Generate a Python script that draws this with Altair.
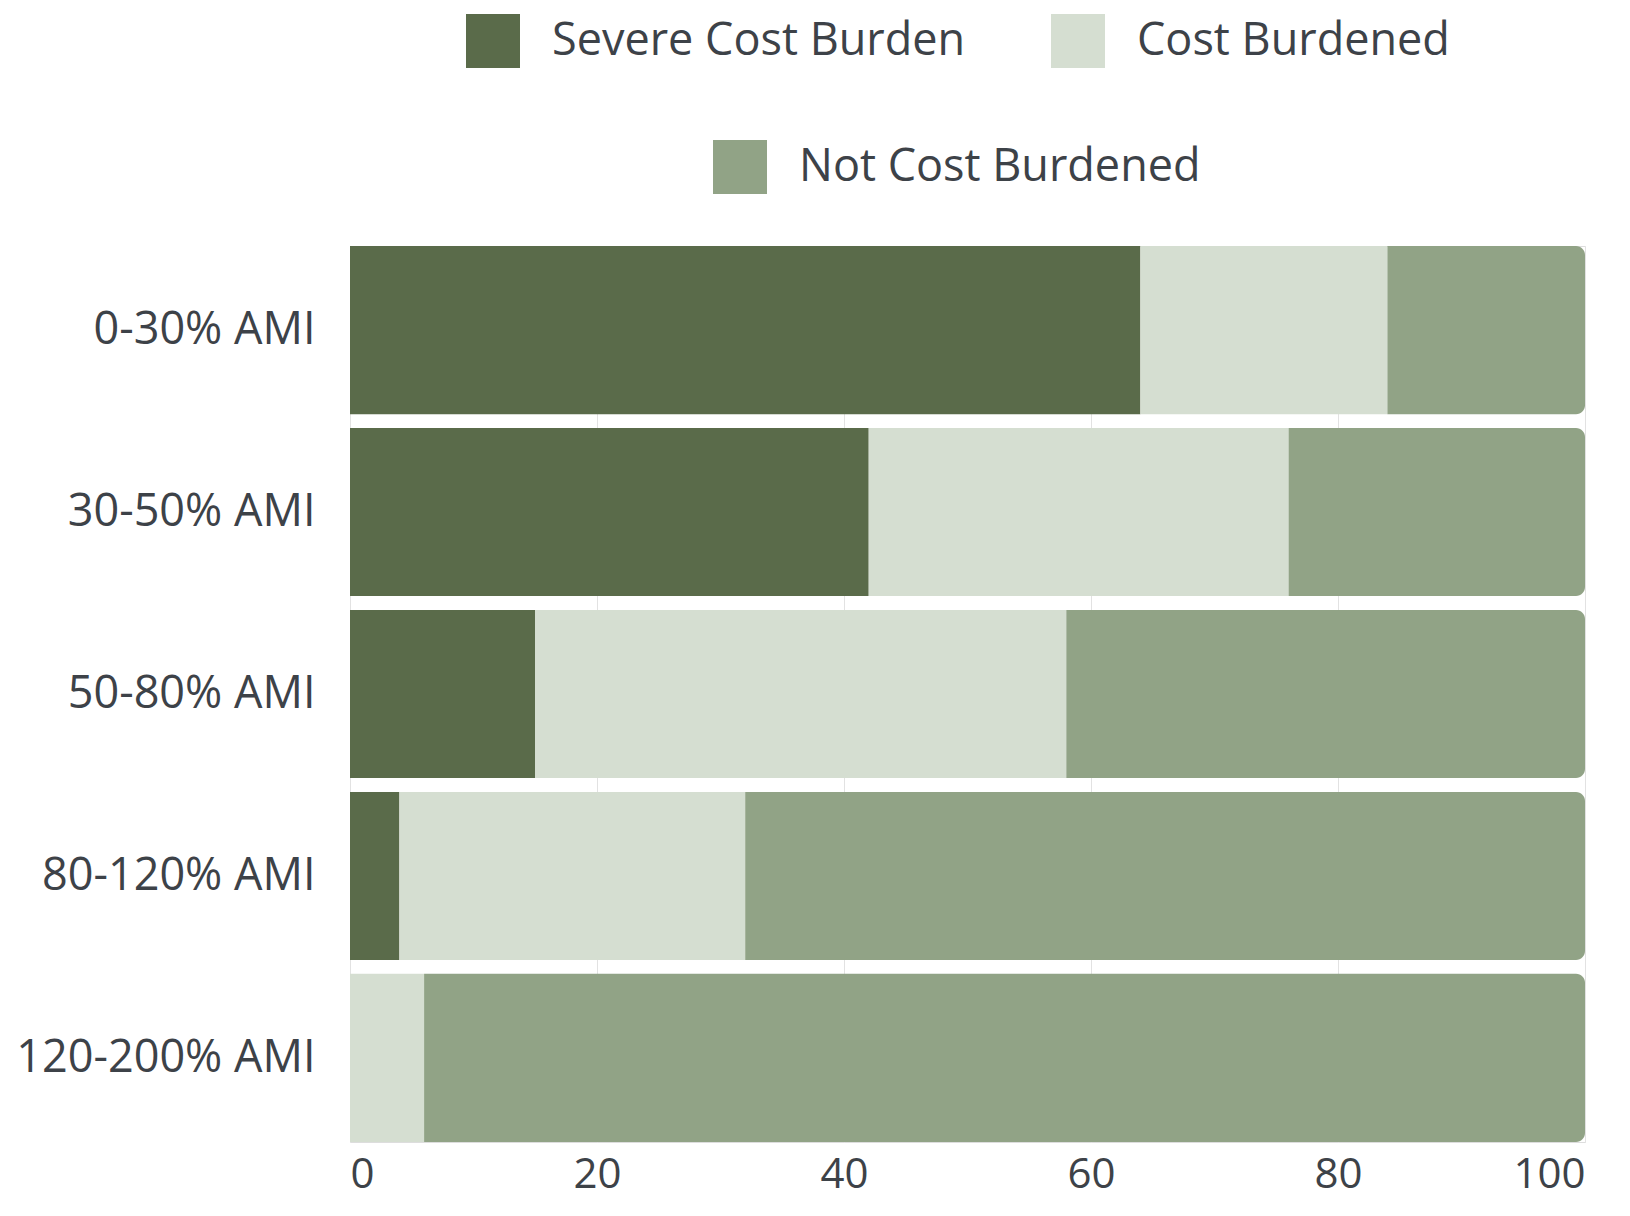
import altair as alt
import pandas as pd

categories = ["0-30% AMI", "30-50% AMI", "50-80% AMI", "80-120% AMI", "120-200% AMI"]
series_names = ["Severe Cost Burden", "Cost Burdened", "Not Cost Burdened"]
severe = [64, 42, 15, 4, 0]
burdened = [20, 34, 43, 28, 6]
not_burdened = [16, 24, 42, 68, 94]
colors = ["#5a6b4a", "#d5ded1", "#91a386"]
x_ticks = [0, 20, 40, 60, 80, 100]

rows = []
for i, cat in enumerate(categories):
    for j, (name, vals) in enumerate(zip(series_names, [severe, burdened, not_burdened])):
        rows.append({"category": cat, "series": name, "order": j, "value": vals[i]})
df = pd.DataFrame(rows)

FONT = "Open Sans"
TXT = "#3d4248"

base = alt.Chart(df).transform_stack(
    stack="value", groupby=["category"], as_=["x0", "x1"],
    sort=[alt.SortField("order", order="ascending")]
)

x_enc = alt.X("x0:Q", scale=alt.Scale(domain=[0, 100], nice=False),
              axis=alt.Axis(values=x_ticks, grid=True, ticks=False, domain=False,
                            labelPadding=12, labelFontSize=42, labelFont=FONT,
                            labelColor=TXT, gridColor="#e2e2e2", title=None))
y_enc = alt.Y("category:N", sort=categories,
              scale=alt.Scale(paddingInner=0.076, paddingOuter=0),
              axis=alt.Axis(title=None, ticks=False, domain=False, labelPadding=35,
                            labelFontSize=45, labelFont=FONT, labelColor=TXT,
                            labelLimit=500))

def legend(x, y):
    return alt.Legend(orient="none", legendX=x, legendY=y, direction="horizontal",
                      title=None, symbolType="square", symbolSize=2916,
                      symbolStrokeWidth=0, symbolOpacity=1, labelFontSize=45,
                      labelFont=FONT, labelColor=TXT, labelLimit=800, labelOffset=32,
                      columnPadding=85, padding=0)

layer1 = base.transform_filter(
    alt.FieldOneOfPredicate(field="series", oneOf=series_names[:2])
).mark_bar().encode(
    x=x_enc, x2="x1:Q", y=y_enc,
    color=alt.Color("series:N", scale=alt.Scale(domain=series_names[:2], range=colors[:2]),
                    legend=legend(116, -232)),
)

layer2 = base.transform_filter(
    alt.FieldEqualPredicate(field="series", equal=series_names[2])
).mark_bar(cornerRadiusTopRight=9, cornerRadiusBottomRight=9).encode(
    x=x_enc, x2="x1:Q", y=y_enc,
    color=alt.Color("series:N", scale=alt.Scale(domain=series_names[2:], range=colors[2:]),
                    legend=legend(363, -106)),
)

chart = alt.layer(layer1, layer2).resolve_scale(color="independent").properties(
    width=1235, height=896,
    padding={"left": 7, "top": 6, "right": 12, "bottom": 14},
).configure_view(stroke=None).configure(font=FONT)

chart.save("out.html", embed_options={"renderer": "svg", "actions": False})
